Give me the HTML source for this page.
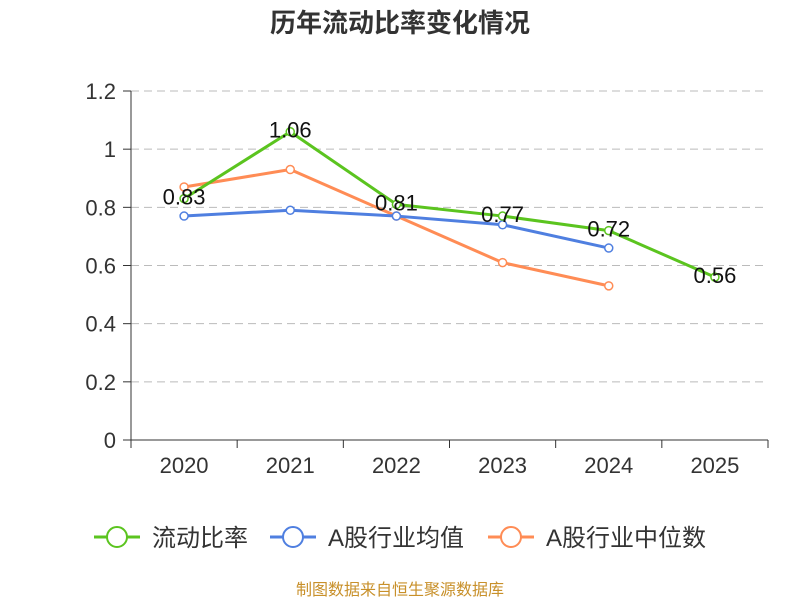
<!DOCTYPE html>
<html><head><meta charset="utf-8"><style>
body{margin:0;background:#fff}
svg text{font-family:"Liberation Sans","Noto Sans CJK SC",sans-serif}
</style></head><body>
<svg id="chart" width="800" height="600" viewBox="0 0 800 600">
<text x="400" y="32" text-anchor="middle" font-size="26" font-weight="bold" fill="#333">历年流动比率变化情况</text>
<g id="grid"></g>
<g id="axes"></g>
<g id="series"></g>
<g id="legend"></g>
<text x="400" y="595" text-anchor="middle" font-size="16" fill="#c8902a">制图数据来自恒生聚源数据库</text>
</svg>
<script>
const categories=["2020","2021","2022","2023","2024","2025"];
const ratioValues=[0.83,1.06,0.81,0.77,0.72,0.56];
const avgValues=[0.77,0.79,0.77,0.74,0.66];
const medianValues=[0.87,0.93,0.77,0.61,0.53];
const yTicks=[0,0.2,0.4,0.6,0.8,1,1.2];
const yTickLabels=["0","0.2","0.4","0.6","0.8","1","1.2"];
const seriesNames=["流动比率","A股行业均值","A股行业中位数"];

const NS="http://www.w3.org/2000/svg";
const X0=131,X1=768,Y0=440,Y1=91,YMAX=1.2;
const bw=(X1-X0)/categories.length;
const xs=i=>X0+bw*(i+0.5);
const ys=v=>Y0-(v/YMAX)*(Y0-Y1);
function mk(tag,attrs,parent,text){const e=document.createElementNS(NS,tag);for(const k in attrs)e.setAttribute(k,attrs[k]);if(text!==undefined)e.textContent=text;parent.appendChild(e);return e;}
const grid=document.getElementById('grid'),axes=document.getElementById('axes'),ser=document.getElementById('series'),leg=document.getElementById('legend');
yTicks.forEach((t,i)=>{
  if(t>0){const l=mk('line',{x1:X0,x2:X1,y1:ys(t),y2:ys(t),stroke:'#bbb','stroke-dasharray':'8,5'},grid);
  
  }
  const tk=mk('line',{x1:X0-8,x2:X0,y1:ys(t),y2:ys(t),stroke:'#333'},axes);
  
  
  const tx=mk('text',{x:X0-15,y:ys(t)+8,'text-anchor':'end','font-size':22,fill:'#333'},axes,yTickLabels[i]);
  
  
});
mk('line',{x1:X0,x2:X0,y1:Y1,y2:Y0,stroke:'#333'},axes);
mk('line',{x1:X0,x2:X1,y1:Y0,y2:Y0,stroke:'#333'},axes);
for(let i=0;i<=categories.length;i++){
  const tk=mk('line',{x1:X0+bw*i,x2:X0+bw*i,y1:Y0,y2:Y0+8,stroke:'#333'},axes);
  
  
}
categories.forEach((c,i)=>{
  const tx=mk('text',{x:xs(i),y:Y0+33,'text-anchor':'middle','font-size':22,fill:'#333'},axes,c);
  
  
});
function drawSeries(vals,color,name){
  const g=mk('g',{},ser);
  
  
  mk('polyline',{points:vals.map((v,i)=>xs(i)+','+ys(v)).join(' '),fill:'none',stroke:color,'stroke-width':3,'stroke-linejoin':'round'},g);
  vals.forEach((v,i)=>{
    const p=mk('circle',{cx:xs(i),cy:ys(v),r:4,fill:'#fff',stroke:color,'stroke-width':1.5},g);
    
    
  });
  return g;
}
drawSeries(medianValues,'#ff8c55','median-series');
drawSeries(avgValues,'#4f7fe0','average-series');
const rg=drawSeries(ratioValues,'#5bc41f','current-ratio-series');
ratioValues.forEach((v,i)=>{
  const t=mk('text',{x:xs(i),y:ys(v)+6,'text-anchor':'middle','font-size':22,fill:'#111'},rg,String(v));
  
  
});
const legColors=['#5bc41f','#4f7fe0','#ff8c55'];
const legX=[94,270,488];
seriesNames.forEach((n,i)=>{
  const g=mk('g',{},leg);
  
  
  mk('line',{x1:legX[i],x2:legX[i]+46,y1:537,y2:537,stroke:legColors[i],'stroke-width':3},g);
  mk('circle',{cx:legX[i]+23,cy:537,r:10,fill:'#fff',stroke:legColors[i],'stroke-width':2},g);
  mk('text',{x:legX[i]+58,y:546,'font-size':24,fill:'#333'},g,n);
});
</script>
</body></html>
